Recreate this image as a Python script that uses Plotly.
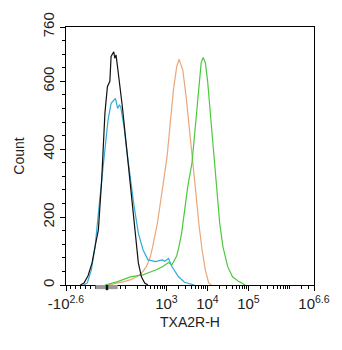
import math
import plotly.graph_objects as go

# Display channel units: 10^3 -> 3, 10^4 -> 4, ... ; -10^2.6 sits at the left edge (0.55)
black_x = [0.90, 0.99, 1.09, 1.185, 1.27, 1.34, 1.42, 1.50, 1.56, 1.62, 1.65, 1.69, 1.715, 1.74, 1.77, 1.81,
           1.85, 1.925, 2.0, 2.08, 2.16, 2.24, 2.315, 2.39, 2.47, 2.55]
black_y = [0, 6, 28, 65, 120, 162, 309, 507, 584, 600, 673, 680, 687, 668, 678, 640,
           604, 525, 437, 339, 241, 142, 65, 24, 6, 0]

blue_x = [0.98, 1.07, 1.17, 1.26, 1.38, 1.50, 1.575, 1.65, 1.71, 1.755, 1.81, 1.85, 1.885, 1.965, 2.04,
          2.12, 2.20, 2.315, 2.43, 2.55, 2.64, 2.74, 2.82, 2.90, 2.96, 3.05, 3.13, 3.29, 3.44, 3.56, 3.68]
blue_y = [0, 6, 45, 113, 260, 407, 486, 535, 545, 550, 520, 530, 525, 466, 389,
          309, 241, 153, 103, 74, 72, 69, 72, 74, 70, 78, 55, 25, 8, 3, 0]

orange_x = [1.575, 1.80, 1.965, 2.13, 2.275, 2.40, 2.51, 2.60, 2.665, 2.78, 2.90, 3.016, 3.093, 3.17,
            3.25, 3.31, 3.35, 3.40, 3.48, 3.56, 3.64, 3.72, 3.79, 3.87, 3.95, 4.03, 4.10]
orange_y = [0, 5, 10, 16, 24, 36, 54, 80, 113, 182, 280, 378, 476, 574,
            643, 665, 650, 633, 555, 466, 368, 270, 182, 103, 44, 6, 0]

green_x = [1.50, 1.81, 2.12, 2.43, 2.51, 2.74, 2.90, 3.054, 3.13, 3.25, 3.30, 3.367, 3.444, 3.52, 3.624,
           3.678, 3.74, 3.794, 3.848, 3.895, 3.95, 4.005, 4.068, 4.145, 4.222, 4.30, 4.378, 4.495,
           4.612, 4.769, 4.923]
green_y = [0, 10, 24, 30, 34, 44, 54, 66, 59, 85, 110, 150, 220, 290, 360,
           430, 525, 600, 655, 670, 655, 600, 506, 388, 280, 182, 113, 54,
           24, 10, 0]

x_tick_vals = [0.55, 3, 4, 5, 6.6]
x_tick_text = ["-10<sup>2.6</sup>", "10<sup>3</sup>", "10<sup>4</sup>", "10<sup>5</sup>", "10<sup>6.6</sup>"]
y_tick_vals = [0, 200, 400, 600, 760]
y_tick_text = ["0", "200", "400", "600", "760"]

series = [
    ("orange", orange_x, orange_y, "#e9a77a"),
    ("green", green_x, green_y, "#4cc83c"),
    ("blue", blue_x, blue_y, "#33a9d6"),
    ("black", black_x, black_y, "#111111"),
]

fig = go.Figure()
for name, xs, ys, col in series:
    fig.add_trace(go.Scatter(x=xs, y=ys, mode="lines", name=name,
                             line=dict(color=col, width=1.2), showlegend=False))

# minor ticks: linear spacing in the low region, log spacing for the decades
minor_x = [0.55 + 0.12 * i for i in range(1, 13)]
for dec in (2, 3, 4, 5):
    for k in range(2, 10):
        minor_x.append(dec + math.log10(k))
for k in (1, 2, 3):
    minor_x.append(6 + math.log10(k))
minor_x = [v for v in minor_x if 0.55 < v < 6.6 and v not in x_tick_vals]

font = dict(family="Liberation Sans, Arial, sans-serif", size=14, color="#222222")
tick_font = dict(family="Liberation Sans, Arial, sans-serif", size=15, color="#222222")

fig.update_layout(
    width=342, height=350,
    margin=dict(l=66, r=17, t=27, b=65),
    paper_bgcolor="white", plot_bgcolor="white",
    font=font,
    xaxis=dict(range=[0.55, 6.6], showgrid=False, zeroline=False,
               showline=True, linecolor="black", linewidth=1, mirror=True,
               ticks="outside", ticklen=5, tickcolor="black",
               tickvals=x_tick_vals, ticktext=x_tick_text, tickfont=tick_font,
               minor=dict(tickvals=minor_x, ticks="outside", ticklen=3, tickcolor="black"),
               title=dict(text="TXA2R-H", standoff=6, font=font)),
    yaxis=dict(range=[0, 760], showgrid=False, zeroline=False,
               showline=True, linecolor="black", linewidth=1, mirror=True,
               ticks="outside", ticklen=5, tickcolor="black",
               tickvals=y_tick_vals, ticktext=y_tick_text, tickangle=-90, tickfont=tick_font,
               minor=dict(dtick=40, ticks="outside", ticklen=3, tickcolor="black"),
               title=dict(text="Count", standoff=12, font=font)),
)

# gray marker bar under the axis near zero
fig.add_shape(type="rect", xref="x", yref="paper", x0=1.27, x1=1.81, y0=-0.016, y1=0,
              fillcolor="#9a9a9a", line=dict(width=0), layer="above")
fig.add_shape(type="rect", xref="x", yref="paper", x0=1.52, x1=1.58, y0=-0.02, y1=0,
              fillcolor="#111111", line=dict(width=0), layer="above")

fig.write_html("out.html")
